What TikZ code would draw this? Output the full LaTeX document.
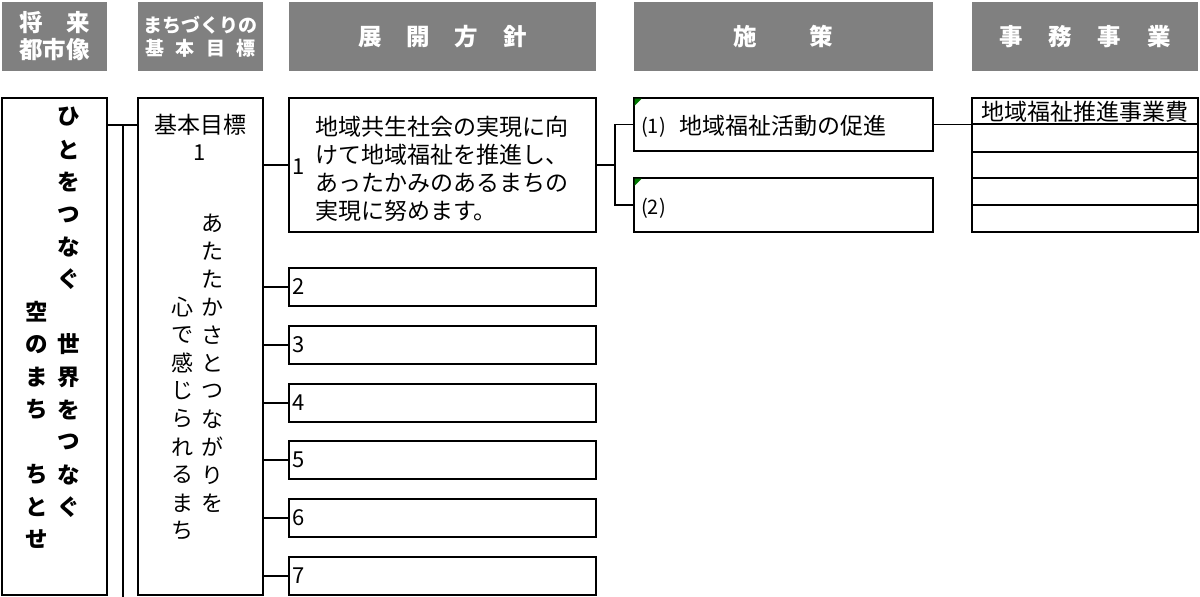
\documentclass[tikz,border=0pt]{standalone}
\usepackage{fontspec}
\setmainfont{Noto Sans CJK JP}
\definecolor{hdrgray}{RGB}{128,128,128}
\definecolor{flag}{RGB}{0,120,0}
\begin{document}
\begin{tikzpicture}[x=1pt,y=-1pt,
  box/.style={draw=black, line width=1.4pt, inner sep=0pt, outer sep=0pt, anchor=north west},
  hdr/.style={fill=hdrgray, text=white, inner sep=0pt, outer sep=0pt, anchor=north west, align=center, font=\bfseries\fontsize{23.5pt}{27pt}\selectfont},
  conn/.style={draw=black, line width=1.4pt},
  txt/.style={inner sep=0pt, font=\fontsize{23pt}{28pt}\selectfont},
  num/.style={inner sep=0pt, font=\fontsize{22pt}{22pt}\selectfont},
  small/.style={inner sep=0pt, anchor=west, font=\fontsize{20pt}{20pt}\selectfont},
  vb/.style={inner sep=0pt, font=\bfseries\fontsize{22.5pt}{22pt}\selectfont},
  vr/.style={inner sep=0pt, font=\fontsize{22pt}{22pt}\selectfont},
  flagtri/.style={fill=flag}]
\useasboundingbox (0,0) rectangle (1200,597);

% headers
\node[hdr, minimum width=105pt, minimum height=69pt] (h1) at (2,2) {将　来\\都市像};
\node[hdr, minimum width=125pt, minimum height=69pt, font=\bfseries\fontsize{19pt}{23pt}\selectfont] (h2) at (138,2) {まちづくりの\\基\hspace{0.6em}本\hspace{0.6em}目\hspace{0.6em}標};
\node[hdr, minimum width=307pt, minimum height=69pt] (h3) at (289,2) {展\hspace{25pt}開\hspace{25pt}方\hspace{25pt}針};
\node[hdr, minimum width=299pt, minimum height=69pt] (h4) at (634,2) {施\hspace{53pt}策};
\node[hdr, minimum width=226pt, minimum height=69pt] (h5) at (972,2) {事\hspace{26pt}務\hspace{26pt}事\hspace{26pt}業};

% column 1 and 2 boxes
\node[box, minimum width=105pt, minimum height=497pt] (c1) at (2,98) {};
\node[box, minimum width=125pt, minimum height=497pt] (c2) at (138,98) {};

% column 3 boxes
\node[box, minimum width=307pt, minimum height=134pt] (g1) at (289,98) {};
\node[box, minimum width=307pt, minimum height=38pt] (g2) at (289,268) {};
\node[box, minimum width=307pt, minimum height=38pt] (g3) at (289,326) {};
\node[box, minimum width=307pt, minimum height=38pt] (g4) at (289,384) {};
\node[box, minimum width=307pt, minimum height=38pt] (g5) at (289,441) {};
\node[box, minimum width=307pt, minimum height=38pt] (g6) at (289,499) {};
\node[box, minimum width=307pt, minimum height=38pt] (g7) at (289,557) {};

% column 4 boxes
\node[box, minimum width=299pt, minimum height=53pt] (p1) at (634,98) {};
\node[box, minimum width=299pt, minimum height=54pt] (p2) at (634,178) {};
\fill[flagtri] ([shift={(0.7,0.7)}]p1.north west) -- ++(7,0) -- ++(-7,7) -- cycle;
\fill[flagtri] ([shift={(0.7,0.7)}]p2.north west) -- ++(7,0) -- ++(-7,7) -- cycle;

% column 5 rows
\node[box, minimum width=226pt, minimum height=26pt] (r1) at (972,98) {};
\node[box, minimum width=226pt, minimum height=28pt] (r2) at (972,124) {};
\node[box, minimum width=226pt, minimum height=26pt] (r3) at (972,152) {};
\node[box, minimum width=226pt, minimum height=27pt] (r4) at (972,178) {};
\node[box, minimum width=226pt, minimum height=27pt] (r5) at (972,205) {};

% connectors
\path (c1.north east) ++(0,27) coordinate (a1);
\draw[conn] (a1) -- (a1 -| c2.west);
\path (a1) ++(16,0) coordinate (t1);
\coordinate (t2) at (t1 |- 0,597);
\draw[conn] (t1) -- (t2);
\foreach \k in {1,...,7} \draw[conn] (g\k.west -| c2.east) -- (g\k.west);
\path (g1.east) ++(19,0) coordinate (b1);
\draw[conn] (g1.east) -- (b1);
\draw[conn] (p1.west) -| (b1) |- (p2.west);
\draw[conn] (p1.east) -- (p1.east -| r1.west);

% column 1 vertical text
\foreach \ch [count=\i from 0] in {ひ,と,を,つ,な,ぐ} \node[vb] (va\i) at (69,117+32.5*\i) {\ch};
\foreach \ch [count=\i from 7] in {世,界,を,つ,な,ぐ} \node[vb] (va\i) at (69,117+32.5*\i) {\ch};
\foreach \ch [count=\i from 6] in {空,の,ま,ち} \node[vb] (vl\i) at (37,117+32.5*\i) {\ch};
\foreach \ch [count=\i from 11] in {ち,と,せ} \node[vb] (vl\i) at (37,117+32.5*\i) {\ch};

% column 2 text
\node[txt] (c2a) at (200,125) {基本目標};
\node[num] (c2b) at (200,153) {1};
\foreach \ch [count=\i from 0] in {あ,た,た,か,さ,と,つ,な,が,り,を} \node[vr] (wa\i) at (212,223+28*\i) {\ch};
\foreach \ch [count=\i from 3] in {心,で,感,じ,ら,れ,る,ま,ち} \node[vr] (wl\i) at (182,223+28*\i) {\ch};

% column 3 text
\node[txt, anchor=west, align=left] (g1t) at (315,169) {地域共生社会の実現に向\\けて地域福祉を推進し、\\あったかみのあるまちの\\実現に努めます。};
\node[num] (n1) at (299,167) {1};
\foreach \k in {2,...,7} \node[num] (n\k) at ([xshift=10pt]g\k.west) {\k};

% column 4 text
\node[small] (p1n) at (641,127) {(1)};
\node[txt, anchor=west] (p1t) at (679,126) {地域福祉活動の促進};
\node[small] (p2n) at (641,208) {(2)};

% column 5 text
\node[txt] (r1t) at (1085,112) {地域福祉推進事業費};
\end{tikzpicture}
\end{document}
